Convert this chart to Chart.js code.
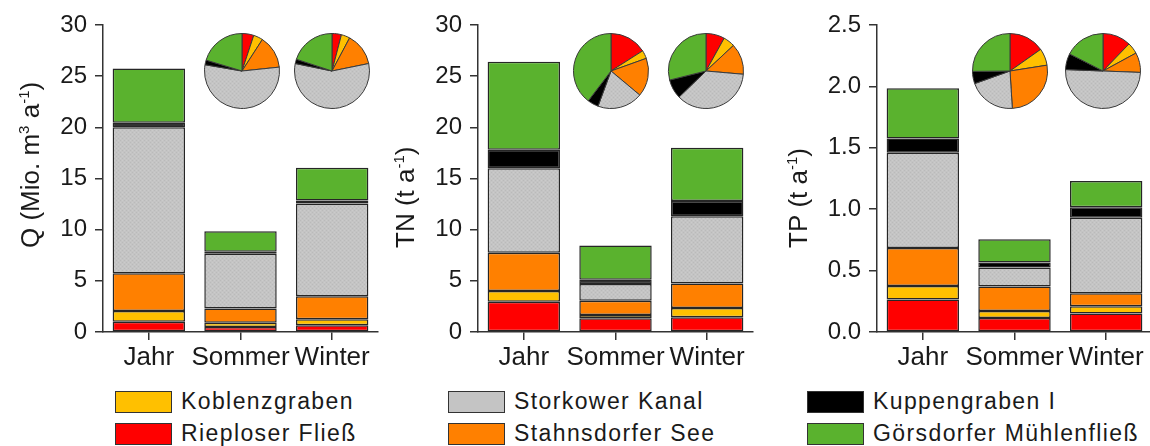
<!DOCTYPE html>
<html>
<head>
<meta charset="utf-8">
<script src="https://cdn.jsdelivr.net/npm/chart.js@4.4.1/dist/chart.umd.min.js"></script>
<style>
body { margin: 0; width: 1150px; height: 446px; overflow: hidden; background: #fff; position: relative;
       font-family: 'Liberation Sans', Arial, sans-serif; }
.panel { position: absolute; top: 0; width: 380px; height: 380px; }
.pie { position: absolute; width: 80px; height: 80px; }
.item { position: absolute; height: 23px; display: flex; align-items: center; }
.item i { display: block; width: 55px; height: 20px; border: 1.5px solid #333; margin-right: 9px; }
.item span { font-size: 23px; letter-spacing: 1.4px; color: #1a1a1a; white-space: nowrap; }
</style>
</head>
<body>
<canvas id="q" class="panel" style="left:0"></canvas>
<canvas id="tn" class="panel" style="left:375px"></canvas>
<canvas id="tp" class="panel" style="left:774px"></canvas>

<canvas id="qSommer" class="pie" style="left:202px"></canvas>
<canvas id="qWinter" class="pie" style="left:292px"></canvas>
<canvas id="tnSommer" class="pie" style="left:571px"></canvas>
<canvas id="tnWinter" class="pie" style="left:666px"></canvas>
<canvas id="tpSommer" class="pie" style="left:970px"></canvas>
<canvas id="tpWinter" class="pie" style="left:1063px"></canvas>

<div id="legend"></div>

<script>
const periods = ['Jahr', 'Sommer', 'Winter'];
const sources = ['Rieploser Fließ', 'Koblenzgraben', 'Stahnsdorfer See', 'Storkower Kanal', 'Kuppengraben I', 'Görsdorfer Mühlenfließ'];
const colors = ['#ff0000', '#ffc000', '#ff8000', '#c4c4c4', '#000000', '#5ab22e'];

// discharge, Mio. m3 per year (Jahr, Sommer, Winter)
const qRieploser = [1.0, 0.5, 0.65];
const qKoblenz = [1.05, 0.4, 0.6];
const qStahnsdorf = [3.7, 1.4, 2.25];
const qStorkow = [14.25, 5.35, 9.05];
const qKuppen = [0.45, 0.2, 0.3];
const qGoersdorf = [5.3, 2.0, 3.2];

// total nitrogen, t per year
const tnRieploser = [2.95, 1.35, 1.45];
const tnKoblenz = [1.05, 0.3, 0.9];
const tnStahnsdorf = [3.75, 1.4, 2.4];
const tnStorkow = [8.25, 1.65, 6.55];
const tnKuppen = [1.8, 0.4, 1.5];
const tnGoersdorf = [8.6, 3.35, 5.2];

// total phosphorus, t per year
const tpRieploser = [0.265, 0.115, 0.15];
const tpKoblenz = [0.11, 0.055, 0.06];
const tpStahnsdorf = [0.31, 0.2, 0.105];
const tpStorkow = [0.775, 0.155, 0.615];
const tpKuppen = [0.115, 0.04, 0.085];
const tpGoersdorf = [0.41, 0.19, 0.215];

const FONT = "'Liberation Sans', Arial, sans-serif";

// fine stipple for the grey segments
function stipple() {
    const c = document.createElement('canvas');
    c.width = 4; c.height = 4;
    const g = c.getContext('2d');
    g.fillStyle = '#c4c4c4';
    g.fillRect(0, 0, 4, 4);
    g.fillStyle = '#bababa';
    g.fillRect(0, 0, 1, 1);
    g.fillRect(2, 2, 1, 1);
    g.fillStyle = '#cbcbcb';
    g.fillRect(2, 0, 1, 1);
    g.fillRect(0, 2, 1, 1);
    return g.createPattern(c, 'repeat');
}
const greyFill = stipple();
const fills = colors.map((c, i) => i === 3 ? greyFill : c);

// rotated axis title with superscript parts
const axisTitle = {
    id: 'axisTitle',
    afterDraw(chart, args, opts) {
        const ctx = chart.ctx;
        ctx.save();
        ctx.translate(opts.x, opts.y);
        ctx.rotate(-Math.PI / 2);
        ctx.fillStyle = '#1a1a1a';
        ctx.textBaseline = 'alphabetic';
        ctx.textAlign = 'left';
        let pos = 0;
        opts.parts.forEach(([text, sup]) => {
            ctx.font = (sup ? 15 : 26) + 'px ' + FONT;
            ctx.fillText(text, pos, sup ? -10 : 0);
            pos += ctx.measureText(text).width;
        });
        ctx.restore();
    }
};

function barChart(id, series, max, step, decimals, title) {
    new Chart(document.getElementById(id), {
        type: 'bar',
        data: {
            labels: periods,
            datasets: series.map((data, i) => ({
                label: sources[i],
                data: data,
                backgroundColor: fills[i],
                borderColor: '#262626',
                borderWidth: 1.5,
                borderSkipped: false,
                categoryPercentage: 1,
                barPercentage: 0.79
            }))
        },
        options: {
            responsive: false,
            animation: false,
            layout: { padding: { top: 25, right: 2, left: 0, bottom: 0 } },
            plugins: { legend: { display: false }, tooltip: { enabled: false }, axisTitle: title },
            scales: {
                x: {
                    stacked: true,
                    afterFit: s => { s.height = 48; },
                    grid: { drawOnChartArea: false, tickLength: 8, color: '#333', lineWidth: 1.5, offset: false },
                    border: { color: '#333', width: 1.5 },
                    ticks: {
                        color: '#1a1a1a', padding: 2, autoSkip: false, maxRotation: 0, minRotation: 0,
                        font: { family: FONT, size: 26 }
                    }
                },
                y: {
                    stacked: true,
                    min: 0, max: max,
                    afterFit: s => { s.width = 103; },
                    grid: { drawOnChartArea: false, tickLength: 8, color: '#333', lineWidth: 1.5 },
                    border: { color: '#333', width: 1.5 },
                    ticks: {
                        stepSize: step, color: '#1a1a1a', padding: 8,
                        font: { family: FONT, size: 24 },
                        callback: v => v.toFixed(decimals)
                    }
                }
            }
        },
        plugins: [axisTitle]
    });
}

function pieChart(id, series, col) {
    new Chart(document.getElementById(id), {
        type: 'pie',
        data: {
            labels: sources,
            datasets: [{
                data: series.map(s => s[col]),
                backgroundColor: fills,
                borderColor: '#3a3a3a',
                borderWidth: 1
            }]
        },
        options: {
            responsive: false,
            animation: false,
            layout: { padding: 2 },
            plugins: { legend: { display: false }, tooltip: { enabled: false } }
        }
    });
}

const qSeries = [qRieploser, qKoblenz, qStahnsdorf, qStorkow, qKuppen, qGoersdorf];
const tnSeries = [tnRieploser, tnKoblenz, tnStahnsdorf, tnStorkow, tnKuppen, tnGoersdorf];
const tpSeries = [tpRieploser, tpKoblenz, tpStahnsdorf, tpStorkow, tpKuppen, tpGoersdorf];

document.querySelectorAll('canvas.panel').forEach(c => { c.width = 380; c.height = 380; });
document.querySelectorAll('canvas.pie').forEach(c => { c.width = 80; c.height = 80; c.style.top = '31px'; });

barChart('q', qSeries, 30, 5, 0, { x: 39, y: 248, parts: [['Q (Mio. m', 0], ['3', 1], [' a', 0], ['-1', 1], [')', 0]] });
barChart('tn', tnSeries, 30, 5, 0, { x: 39, y: 248, parts: [['TN (t a', 0], ['-1', 1], [')', 0]] });
barChart('tp', tpSeries, 2.5, 0.5, 1, { x: 33, y: 248, parts: [['TP (t a', 0], ['-1', 1], [')', 0]] });

pieChart('qSommer', qSeries, 1);
pieChart('qWinter', qSeries, 2);
pieChart('tnSommer', tnSeries, 1);
pieChart('tnWinter', tnSeries, 2);
pieChart('tpSommer', tpSeries, 1);
pieChart('tpWinter', tpSeries, 2);

// legend, three columns of two rows
const legendSlots = [
    [1, 115, 390], [0, 115, 422],
    [3, 448, 390], [2, 448, 422],
    [4, 807, 390], [5, 807, 422]
];
const legend = document.getElementById('legend');
legendSlots.forEach(([i, x, y]) => {
    const item = document.createElement('div');
    item.className = 'item';
    item.style.left = x + 'px';
    item.style.top = y + 'px';
    const sw = document.createElement('i');
    sw.style.background = colors[i];
    const label = document.createElement('span');
    label.textContent = sources[i];
    item.append(sw, label);
    legend.append(item);
});
</script>
</body>
</html>
